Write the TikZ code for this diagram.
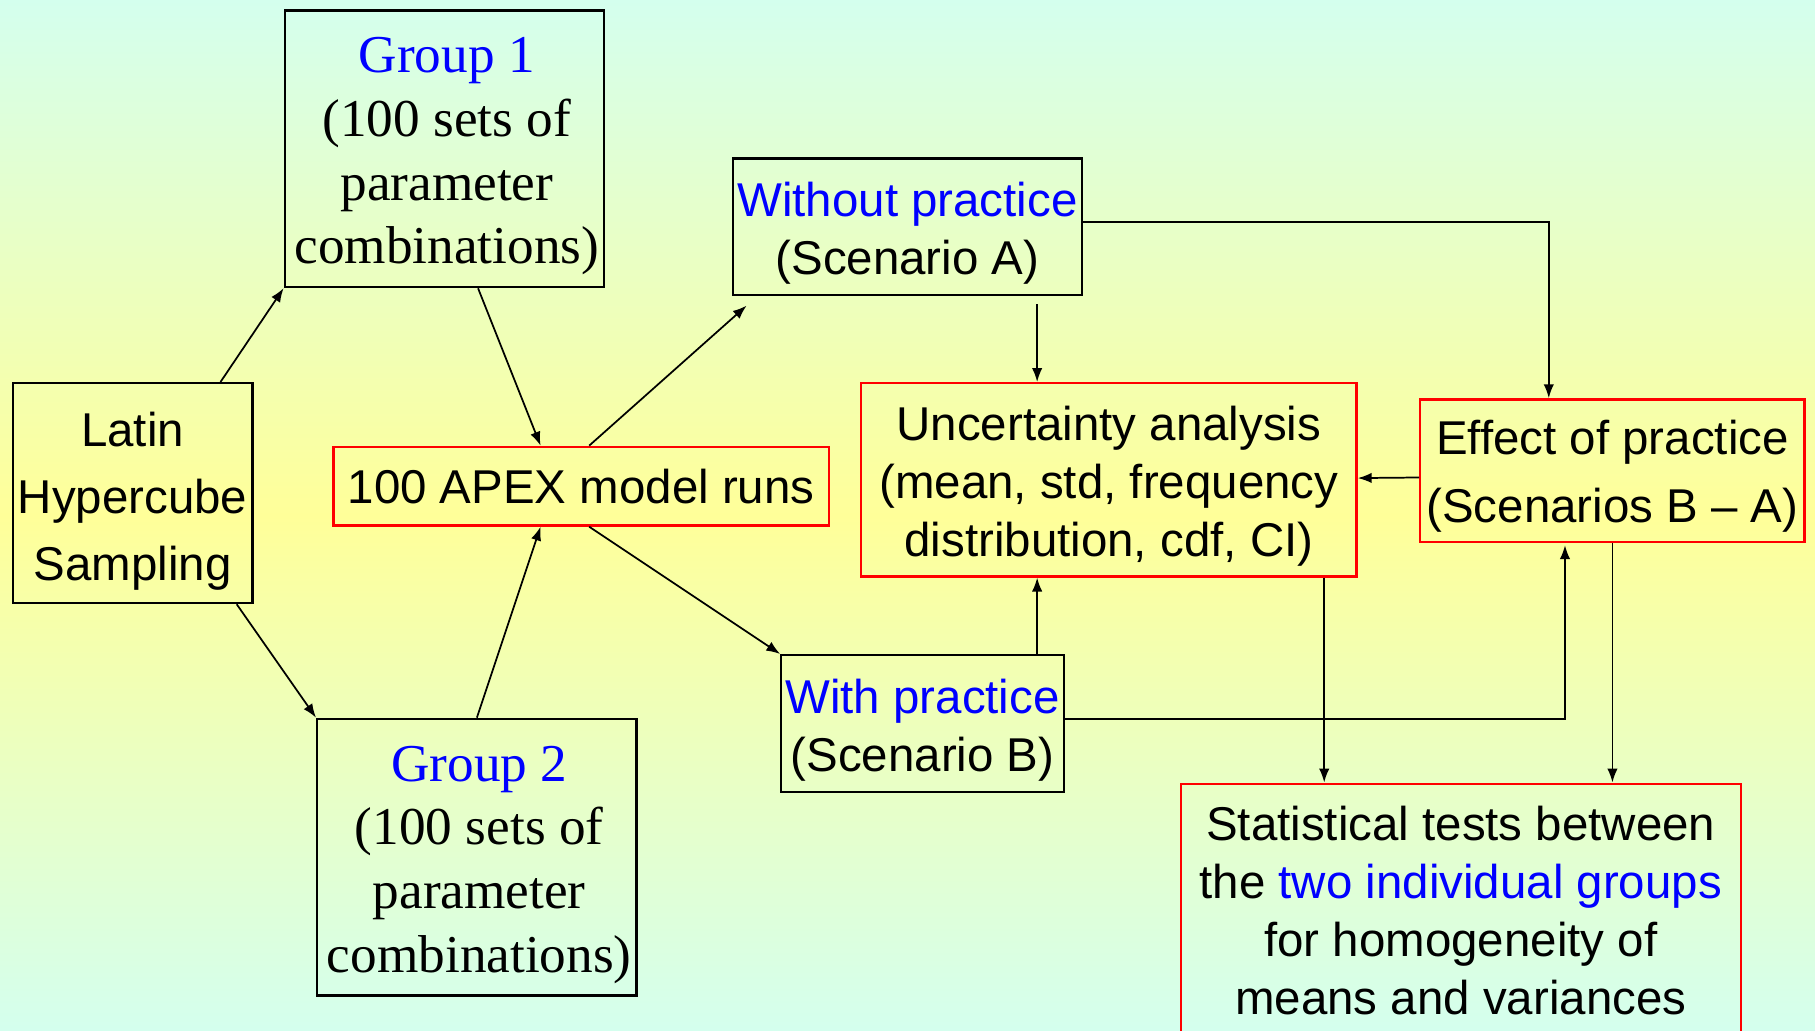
\documentclass[tikz,border=0pt]{standalone}
\usepackage{fontspec}
\setmainfont{Liberation Sans}
\newfontfamily\tnr{Liberation Serif}
\usetikzlibrary{arrows.meta}
\definecolor{mint}{RGB}{212,255,238}
\definecolor{pale}{RGB}{255,255,153}
\definecolor{tblue}{RGB}{0,0,255}
\begin{document}
\begin{tikzpicture}[x=0.5pt,y=-0.5pt,
  box/.style={draw=black,line width=1pt,rectangle,inner sep=0pt},
  redbox/.style={box,draw=red},
  txt/.style={align=center,inner sep=0pt,font=\fontsize{20.5pt}{25pt}\selectfont,yshift=-2.75pt},
  txtwide/.style={txt,font=\fontsize{20.5pt}{29pt}\selectfont,yshift=-0.75pt},
  grptxt/.style={txt,font=\tnr\fontsize{23pt}{27.5pt}\selectfont,yshift=-0.5pt},
  arr/.style={line width=0.75pt,-{Latex[length=6pt,width=4.5pt]}},
]
\useasboundingbox (0,0) rectangle (1568,890);
\shade[top color=mint,bottom color=pale] (0,0) rectangle (1568,445);
\shade[top color=pale,bottom color=mint] (0,445) rectangle (1568,890);

\node[box,minimum width=103.5pt,minimum height=95pt,
  label={[txtwide]center:{Latin\\Hypercube\\Sampling}}] (lhs) at (114.5,426) {};
\node[box,minimum width=138pt,minimum height=119.5pt,
  label={[grptxt,xshift=1pt]center:{\textcolor{tblue}{Group 1}\\(100 sets of\\parameter\\combinations)}}] (g1) at (384,128.5) {};
\node[box,minimum width=138pt,minimum height=119.5pt,
  label={[grptxt,xshift=1pt]center:{\textcolor{tblue}{Group 2}\\(100 sets of\\parameter\\combinations)}}] (g2) at (412,740.5) {};
\node[redbox,minimum width=214pt,minimum height=34pt,
  label={[txt,yshift=2.75pt]center:{100 APEX model runs}}] (apex) at (502,420) {};
\node[box,minimum width=151pt,minimum height=59pt,
  label={[txt]center:{\textcolor{tblue}{Without practice}\\(Scenario A)}}] (wo) at (784,196) {};
\node[box,minimum width=122pt,minimum height=59pt,
  label={[txt]center:{\textcolor{tblue}{With practice}\\(Scenario B)}}] (wp) at (797,625) {};
\node[redbox,minimum width=214pt,minimum height=83.5pt,
  label={[txt]center:{Uncertainty analysis\\(mean, std, frequency\\distribution, cdf, CI)}}] (ua) at (958,414.5) {};
\node[redbox,minimum width=166pt,minimum height=61.5pt,
  label={[txtwide,font=\fontsize{20.5pt}{29.5pt}\selectfont,yshift=1pt]center:{Effect of practice\\(Scenarios B -- A)}}] (ep) at (1393,406.5) {};
\node[redbox,minimum width=242pt,minimum height=109.5pt,
  label={[txt,yshift=2.75pt]center:{Statistical tests between\\the \textcolor{tblue}{two individual groups}\\for homogeneity of\\means and variances}}] (st) at (1262,786.5) {};

\draw[arr] ([xshift=38pt]lhs.north) -- (g1.south west);
\draw[arr] ([xshift=45pt]lhs.south) -- (g2.north west);
\draw[arr] ([xshift=14.5pt]g1.south) -- ([xshift=-17.5pt]apex.north);
\draw[arr] (g2.north) -- ([xshift=-17.5pt]apex.south);
\draw[arr] ([xshift=3.5pt]apex.north) -- ([shift={(6.5pt,-4pt)}]wo.south west);
\draw[arr] ([xshift=3.5pt]apex.south) -- (wp.north west);
\draw[arr] ([xshift=56pt,yshift=-3.5pt]wo.south) -- ([xshift=-31pt]ua.north);
\draw[arr] ([yshift=2pt]wo.east) -| ([xshift=-27.5pt]ep.north);
\draw[arr] ([xshift=49.5pt]wp.north) -- ([xshift=-31pt]ua.south);
\draw[arr] ([yshift=2pt]wp.east) -| ([xshift=-20.5pt,yshift=-1pt]ep.south);
\draw[arr] ([yshift=-3pt]ep.west) -- ([yshift=0.75pt]ua.east);
\draw[arr] ([xshift=93pt]ua.south) -- ([xshift=-59pt]st.north);
\draw[arr] (ep.south) -- ([xshift=65.5pt]st.north);
\end{tikzpicture}
\end{document}
